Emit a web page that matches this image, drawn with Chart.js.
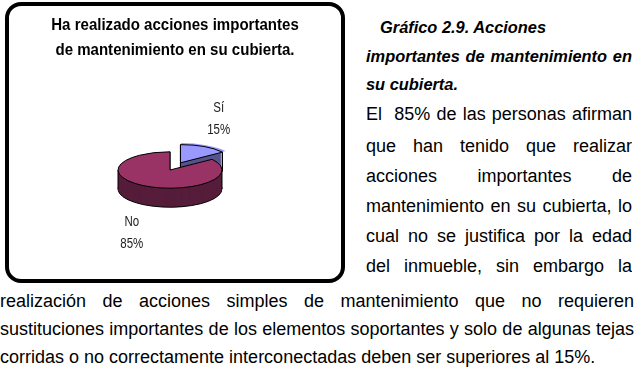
<!DOCTYPE html>
<html>
<head>
<meta charset="utf-8">
<script src="https://cdn.jsdelivr.net/npm/chart.js@4.4.1/dist/chart.umd.min.js"></script>
<style>
  html, body { margin: 0; padding: 0; background: #fff; }
  body {
    width: 636px; height: 369px; position: relative; overflow: hidden;
    font-family: 'Liberation Sans', Arial, sans-serif; font-size: 18px; color: #000;
  }
  .box {
    position: absolute; left: 5px; top: 2px; width: 340px; height: 281px;
    box-sizing: border-box; border: 4px solid #000; border-radius: 16px;
  }
  .wrap { position: absolute; left: 0; top: 0; width: 332px; height: 273px; }
  .ln { position: absolute; height: 20px; line-height: 20px; white-space: nowrap; }
  .j { text-align: justify; text-align-last: justify; white-space: normal; overflow: hidden; }
  .cap { font-weight: bold; font-style: italic; font-size: 16.4px; }
  .col { left: 366px; width: 266px; }
  .full { left: 0; width: 634px; }
</style>
</head>
<body>
<div class="box"><div class="wrap"><canvas id="pie"></canvas></div></div>

<div class="ln cap" style="left:380px; top:17.2px;">Gráfico 2.9. Acciones</div>
<div class="ln cap col j" style="top:46.2px;">importantes de mantenimiento en</div>
<div class="ln cap col" style="top:74.2px;">su cubierta.</div>
<div class="ln col j" style="top:103.8px;">El&nbsp; 85% de las personas afirman</div>
<div class="ln col j" style="top:135.8px;">que han tenido que realizar</div>
<div class="ln col j" style="top:165.8px;">acciones importantes de</div>
<div class="ln col j" style="top:195.8px;">mantenimiento en su cubierta, lo</div>
<div class="ln col j" style="top:225.8px;">cual no se justifica por la edad</div>
<div class="ln col j" style="top:255.8px;">del inmueble, sin embargo la</div>
<div class="ln full j" style="top:290.5px;">realización de acciones simples de mantenimiento que no requieren</div>
<div class="ln full j" style="top:318.8px;">sustituciones importantes de los elementos soportantes y solo de algunas tejas</div>
<div class="ln full" style="top:346.8px;">corridas o no correctamente interconectadas deben ser superiores al 15%.</div>

<script>
// ===================================================
// 3D PIE – "acciones importantes de mantenimiento"
// ===================================================

const categories = ['Sí', 'No'];
const values = [15, 85];
const chartTitle = ['Ha realizado acciones importantes', 'de mantenimiento en su cubierta.'];

const topColors  = ['#9999FF', '#993366'];
const sideColors = ['#55558C', '#561D3B'];

const TILT  = 0.35;   // vertical squash of the pie disc
const DEPTH = 19;     // thickness of the disc, px
const SANS = "'Liberation Sans', Arial, sans-serif";
const TITLE_SQUEEZE = 0.885;  // fake a narrow face
const LABEL_SQUEEZE = 0.82;

// arc centre, including the explode offset (Chart.js moves arcs by offset/4)
function arcCenter(arc) {
  const mid = (arc.startAngle + arc.endAngle) / 2;
  const off = (arc.options.offset || 0) / 4;
  return { x: arc.x + Math.cos(mid) * off, y: arc.y + Math.sin(mid) * off, mid };
}

function slicePath(ctx, arc, dy) {
  const c = arcCenter(arc);
  ctx.moveTo(c.x, c.y + dy);
  ctx.arc(c.x, c.y + dy, arc.outerRadius, arc.startAngle, arc.endAngle);
  ctx.closePath();
}

function inArc(arc, a) {
  let t = a;
  while (t < arc.startAngle) t += Math.PI * 2;
  while (t >= arc.startAngle + Math.PI * 2) t -= Math.PI * 2;
  return t <= arc.endAngle;
}

function tilt(ctx, cx, cy) {
  ctx.translate(cx, cy);
  ctx.scale(1, TILT);
  ctx.translate(-cx, -cy);
}

// ── empty box on the right so the pie sits left of the title ──
const spacer = {
  id: 'spacer',
  beforeInit(chart) {
    Chart.layouts.addBox(chart, {
      position: 'right', weight: 0, fullSize: false, options: {},
      width: 0, height: 0,
      isHorizontal() { return false; },
      update(maxWidth, maxHeight) { this.width = 10; this.height = maxHeight; },
      getPadding() { return { left: 0, top: 0, right: 0, bottom: 0 }; },
      draw() {}
    });
  }
};

// ── squeeze the title horizontally (no narrow font installed) ──
const narrowTitle = {
  id: 'narrowTitle',
  beforeDraw(chart) {
    const ctx = chart.ctx, cx = chart.width / 2;
    ctx.save();
    ctx.translate(cx, 0);
    ctx.scale(TITLE_SQUEEZE, 1);
    ctx.translate(-cx, 0);
  },
  beforeDatasetsDraw(chart) {
    chart.ctx.restore();
  }
};

// ── walls + squashed top faces ──
const pie3d = {
  id: 'pie3d',
  beforeDatasetsDraw(chart) {
    const ctx = chart.ctx;
    const arcs = chart.getDatasetMeta(0).data;
    const cx = arcs[0].x, cy = arcs[0].y;

    for (let d = DEPTH; d >= 1; d--) {
      arcs.forEach((arc, i) => {
        ctx.save();
        tilt(ctx, cx, cy);
        ctx.beginPath();
        slicePath(ctx, arc, d / TILT);
        ctx.restore();
        ctx.fillStyle = sideColors[i];
        ctx.fill();
        if (d === DEPTH) {
          ctx.lineWidth = 1;
          ctx.strokeStyle = '#000';
          ctx.stroke();
        }
      });
    }

    // vertical edges of the walls
    ctx.save();
    tilt(ctx, cx, cy);
    ctx.beginPath();
    arcs.forEach(arc => {
      const c = arcCenter(arc);
      const R = arc.outerRadius;
      const angles = [arc.startAngle, arc.endAngle];
      [0, Math.PI].forEach(a => { if (inArc(arc, a)) angles.push(a); });
      ctx.moveTo(c.x, c.y);
      ctx.lineTo(c.x, c.y + DEPTH / TILT);
      angles.forEach(a => {
        const px = c.x + Math.cos(a) * R, py = c.y + Math.sin(a) * R;
        ctx.moveTo(px, py);
        ctx.lineTo(px, py + DEPTH / TILT);
      });
    });
    ctx.restore();
    ctx.lineWidth = 1;
    ctx.strokeStyle = '#000';
    ctx.stroke();

    // top faces are drawn by the controller inside this transform
    ctx.save();
    tilt(ctx, cx, cy);
  },
  afterDatasetsDraw(chart) {
    const ctx = chart.ctx;
    const arcs = chart.getDatasetMeta(0).data;
    ctx.beginPath();
    arcs.forEach(arc => slicePath(ctx, arc, 0));
    ctx.restore();
    ctx.lineWidth = 1;
    ctx.strokeStyle = '#000';
    ctx.stroke();
  }
};

// ── "Sí / 15%" style labels outside the slices ──
const sliceLabels = {
  id: 'sliceLabels',
  afterDraw(chart) {
    const ctx = chart.ctx;
    const arcs = chart.getDatasetMeta(0).data;
    const total = values.reduce((a, b) => a + b, 0);
    arcs.forEach((arc, i) => {
      const c = arcCenter(arc);
      const R = arc.outerRadius;
      const sy = arc.y + (c.y - arc.y) * TILT;
      const lx = c.x + Math.cos(c.mid) * R * 1.62;
      const ly = sy + Math.sin(c.mid) * R * 0.95 + (Math.sin(c.mid) > 0 ? DEPTH : 0);
      ctx.save();
      ctx.translate(lx, ly);
      ctx.scale(LABEL_SQUEEZE, 1);
      ctx.font = '14px ' + SANS;
      ctx.fillStyle = '#222';
      ctx.textAlign = 'center';
      ctx.textBaseline = 'middle';
      ctx.fillText(categories[i], 0, -11);
      ctx.fillText(Math.round(values[i] / total * 100) + '%', 0, 11);
      ctx.restore();
    });
  }
};

new Chart(document.getElementById('pie'), {
  type: 'pie',
  data: {
    labels: categories,
    datasets: [{
      data: values,
      backgroundColor: topColors,
      borderWidth: 0,
      offset: [92, 0],
      clip: false
    }]
  },
  options: {
    responsive: true,
    maintainAspectRatio: false,
    animation: false,
    events: [],
    radius: 52,
    layout: { padding: { bottom: 1.5 } },
    plugins: {
      legend: { display: false },
      tooltip: { enabled: false },
      title: {
        display: true,
        text: chartTitle,
        color: '#000',
        font: { family: SANS, size: 17, weight: 'bold', lineHeight: 25 / 17 },
        padding: { top: 6.5, bottom: 0 }
      }
    }
  },
  plugins: [spacer, narrowTitle, pie3d, sliceLabels]
});
</script>
</body>
</html>
